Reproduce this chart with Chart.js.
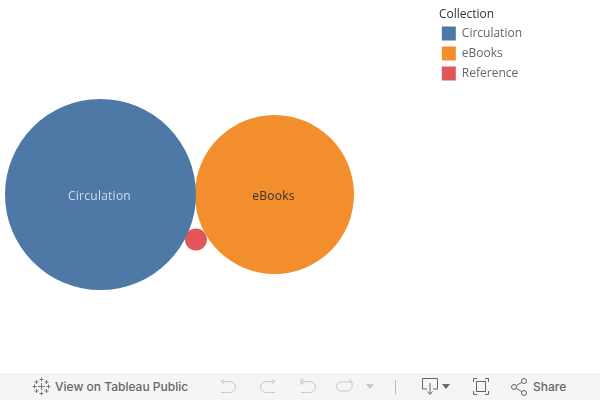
<!DOCTYPE html>
<html>
<head>
<meta charset="utf-8">
<title>Collection</title>
<script src="https://cdn.jsdelivr.net/npm/chart.js@4/dist/chart.umd.min.js"></script>
<style>
    html, body { margin: 0; padding: 0; background: #fff; overflow: hidden; }
    #wrap { position: relative; width: 600px; height: 373px; }
    #toolbar { position: absolute; left: 0; top: 373px; width: 600px; height: 27px; background: #f5f5f5;
        font: 500 12px Inter, Roboto, sans-serif; color: #666; }
    #toolbar span { position: absolute; top: 6px; line-height: 16px; white-space: nowrap; }
    #toolbar svg { position: absolute; left: 0; top: 0; }
</style>
</head>
<body>
<div id="wrap"><canvas id="chart" width="600" height="373"></canvas></div>
<div id="toolbar">
    <svg width="600" height="27" fill="none" stroke-width="1">
        <!-- tableau logo -->
        <g stroke="#777">
            <path d="M41.500 10v7M38 13.500h7"/>
            <path d="M41.500 4.500v4M39.500 6.500h4M41.500 18.500v4M39.500 20.500h4M34.500 11.500v4M32.500 13.500h4M48.500 11.500v4M46.500 13.500h4"/>
            <path d="M36.500 7v4M34.500 9h4M46.500 7v4M44.500 9h4M36.500 16v4M34.500 18h4M46.500 16v4M44.500 18h4"/>
        </g>
        <!-- undo, redo, revert, refresh -->
        <g stroke="#c9c9c9">
            <path d="M221 8.500h9a5.500 5.500 0 0 1 0 11h-9M221 8.500l3-2.500M221 8.500l3 2.500"/>
            <path d="M275 8.500h-9a5.500 5.500 0 0 0 0 11h9M275 8.500l-3-2.500M275 8.500l-3 2.500"/>
            <path d="M301 5v7M301 8.500h9a5.500 5.500 0 0 1 0 11h-9M301 8.500l3-2.500M301 8.500l3 2.500"/>
            <path d="M352 9h-11a4.500 4.500 0 0 0 0 9h7a4.500 4.500 0 0 0 4-4.500V9M352 9l-3-2.500"/>
            <path d="M395.500 7v14" stroke="#bbb"/>
        </g>
        <path d="M366 11h8l-4 5z" fill="#c9c9c9"/>
        <!-- download, fullscreen, share -->
        <g stroke="#666">
            <path d="M427 16h-4.500V5.500h15V16H433M430 10v11M427.500 18.500l2.500 3 2.500-3"/>
            <path d="M473.500 9V5.500H477M485 5.500h3.500V9M488.500 18v3.500H485M477 21.500h-3.500V18"/>
            <rect x="476.500" y="8.500" width="9" height="10"/>
            <circle cx="524" cy="8" r="2.500"/><circle cx="514" cy="14" r="2.500"/><circle cx="524" cy="20" r="2.500"/>
            <path d="M516.200 12.700l5.600-3.400M516.200 15.300l5.600 3.400"/>
        </g>
        <path d="M442 11h8l-4 5z" fill="#666"/>
    </svg>
    <span style="left:55px">View on Tableau Public</span>
    <span style="left:533px">Share</span>
</div>
<script>
// 数据
const collections = ['Circulation', 'eBooks', 'Reference'];
const holdings = [9120, 6320, 121];
const collectionColors = ['#4e79a7', '#f28e2b', '#e15759'];
const labelColors = ['#d3deea', '#333333', '#333333'];

// 圆堆叠：三个圆两两相贴，略有 1px 重叠
const radii = holdings.map(v => Math.sqrt(v));
function packBubbles() {
    const d = radii[0] + radii[1] - 1;
    const a = radii[0] + radii[2] - 1;
    const b = radii[1] + radii[2];
    const x3 = (a * a - b * b + d * d) / (2 * d);
    return [
        { x: 0, y: 0, r: radii[0] },
        { x: d, y: 0, r: radii[1] },
        { x: x3, y: -Math.sqrt(a * a - x3 * x3), r: radii[2] }
    ];
}
const packed = packBubbles();

// 气泡内的名称，放不下就不画
const bubbleLabels = {
    id: 'bubbleLabels',
    afterDatasetsDraw(chart) {
        const ctx = chart.ctx;
        ctx.save();
        ctx.font = '12px "Open Sans"';
        ctx.letterSpacing = '0.25px';
        ctx.textAlign = 'center';
        ctx.textBaseline = 'middle';
        collections.forEach((name, i) => {
            const el = chart.getDatasetMeta(i).data[0];
            if (ctx.measureText(name).width > radii[i] * 2) return;
            ctx.fillStyle = labelColors[i];
            ctx.fillText(name, el.x - 1, el.y + 2.5);
        });
        ctx.restore();
    }
};

new Chart(document.getElementById('chart'), {
    type: 'bubble',
    data: {
        datasets: collections.map((name, i) => ({
            label: name,
            data: [packed[i]],
            backgroundColor: collectionColors[i],
            borderWidth: 0,
            hoverBorderWidth: 0
        }))
    },
    plugins: [bubbleLabels],
    options: {
        responsive: false,
        animation: false,
        events: [],
        layout: { autoPadding: false, padding: { right: 68 } },
        scales: {
            x: {
                display: false,
                afterBuildTicks: scale => { scale.min = -100.5; scale.max = scale.min + scale.width; }
            },
            y: {
                display: false,
                afterBuildTicks: scale => { scale.max = 194.5; scale.min = scale.max - scale.height; }
            }
        },
        plugins: {
            tooltip: { enabled: false },
            legend: {
                position: 'right',
                align: 'start',
                title: {
                    display: true,
                    text: ' Collection', // 前面的空格让标题右移约 3px
                    position: 'start',
                    color: '#333333',
                    font: { family: '"Open Sans"', size: 12 },
                    padding: { top: 9, bottom: -3 }
                },
                labels: {
                    boxWidth: 14,
                    boxHeight: 14,
                    padding: 6,
                    color: '#666666',
                    font: { family: '"Open Sans"', size: 12 }
                }
            }
        }
    }
});
</script>
</body>
</html>
